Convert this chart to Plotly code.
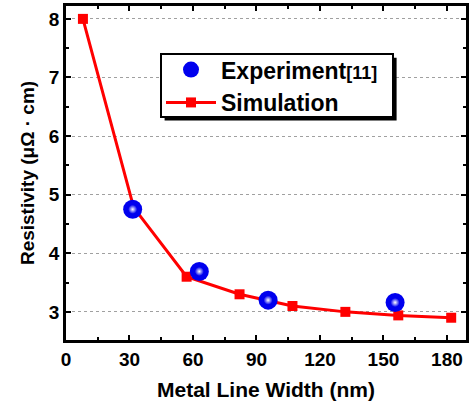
import plotly.graph_objects as go

sim_x = [8, 32, 57, 82, 107, 132, 157, 182]
sim_y = [8.0, 4.78, 3.6, 3.3, 3.1, 3.0, 2.94, 2.9]
exp_x = [31.5, 63, 95.5, 155.5]
exp_y = [4.75, 3.69, 3.2, 3.16]
x_ticks = [0, 30, 60, 90, 120, 150, 180]
y_ticks = [3, 4, 5, 6, 7, 8]

FONT = "Liberation Sans, Arial, sans-serif"

fig = go.Figure()
fig.add_trace(go.Scatter(
    x=sim_x, y=sim_y, mode="lines+markers", name="<b>Simulation</b>",
    line=dict(color="#ff0000", width=3),
    marker=dict(symbol="square", size=10, color="#ff0000"),
))
fig.add_trace(go.Scatter(
    x=exp_x, y=exp_y, mode="markers",
    name="<b>Experiment<span style='font-size:18px'>[11]</span></b>",
    marker=dict(symbol="circle", size=19, color="#0000ee", line=dict(width=0)),
))
# specular highlight on the spheres
fig.add_trace(go.Scatter(
    x=exp_x, y=exp_y, mode="markers", showlegend=False, hoverinfo="skip",
    marker=dict(symbol="circle", size=9, color="#0000ee",
                gradient=dict(type="radial", color="#ffffff"),
                line=dict(width=0)),
))

# legend box with drop shadow
bx0, bx1, by0, by1 = 0.2375, 0.8175, 0.668, 0.856
fig.add_shape(type="rect", xref="paper", yref="paper",
              x0=bx0 + 0.009, x1=bx1 + 0.009, y0=by0 - 0.011, y1=by1 - 0.011,
              fillcolor="black", line=dict(width=0), layer="above")
fig.add_shape(type="rect", xref="paper", yref="paper",
              x0=bx0, x1=bx1, y0=by0, y1=by1,
              fillcolor="white", line=dict(color="black", width=2), layer="above")

axis_common = dict(
    showline=True, linecolor="black", linewidth=2.5, mirror="allticks",
    ticks="inside", ticklen=5, tickwidth=2, tickcolor="black",
    tickfont=dict(family=FONT, size=19, color="black", weight="bold"),
    zeroline=False, automargin=False,
)
fig.update_xaxes(
    range=[0, 189], tickvals=x_ticks, showgrid=False,
    minor=dict(ticks="inside", ticklen=3, tickwidth=2, tickcolor="black", dtick=15, showgrid=False),
    title=dict(text="<b>Metal Line Width (nm)</b>", font=dict(family=FONT, size=21, color="black"), standoff=14),
    **axis_common,
)
fig.update_yaxes(
    range=[2.52, 8.22], tickvals=y_ticks, showgrid=True, gridcolor="#a0a0a0",
    griddash="dot", gridwidth=1,
    minor=dict(ticks="inside", ticklen=3, tickwidth=2, tickcolor="black", dtick=0.5, showgrid=False),
    title=dict(text="<b>Resistivity (μΩ · cm)</b>", font=dict(family=FONT, size=19, color="black"), standoff=10),
    **axis_common,
)

fig.update_layout(
    width=475, height=403,
    margin=dict(l=66, r=9, t=6, b=63),
    plot_bgcolor="white", paper_bgcolor="white",
    font=dict(family=FONT, color="black"),
    legend=dict(x=bx0 + 0.0, y=by1 + 0.018, xanchor="left", yanchor="top",
                bgcolor="rgba(0,0,0,0)", borderwidth=0,
                font=dict(family=FONT, size=23, color="black"),
                traceorder="reversed", itemwidth=50, tracegroupgap=0),
    showlegend=True,
)
fig.write_html("out.html", config={"displayModeBar": False},
               post_script="document.body.style.margin='0';document.body.style.overflow='hidden';")
